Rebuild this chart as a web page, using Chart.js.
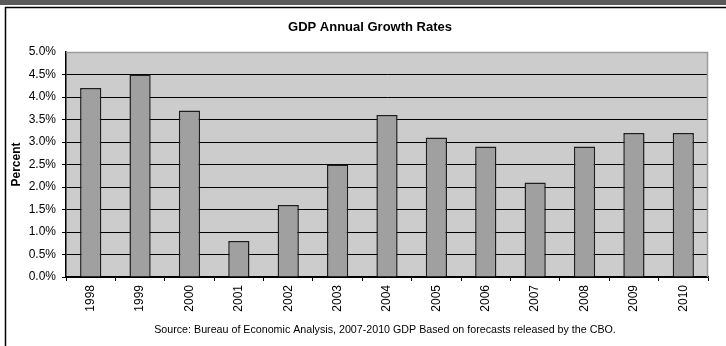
<!DOCTYPE html>
<html>
<head>
<meta charset="utf-8">
<script src="https://cdn.jsdelivr.net/npm/chart.js@4/dist/chart.umd.min.js"></script>
<style>
  html, body { margin: 0; padding: 0; background: #fff; }
  #wrap { width: 726px; height: 346px; position: relative; }
</style>
</head>
<body>
<div id="wrap"><canvas id="gdp" width="726" height="346"></canvas></div>
<script>
// GDP annual growth rates, percent
const years = ['1998','1999','2000','2001','2002','2003','2004','2005','2006','2007','2008','2009','2010'];
const growth = [4.2, 4.5, 3.7, 0.8, 1.6, 2.5, 3.6, 3.1, 2.9, 2.1, 2.9, 3.2, 3.2];
const yMin = 0;
const yMax = 5;
const yStep = 0.5;
const chartTitle = 'GDP Annual Growth Rates';
const yTitle = 'Percent';
const sourceNote = 'Source: Bureau of Economic Analysis, 2007-2010 GDP Based on forecasts released by the CBO.';

const FONT = '"Liberation Sans", Arial, sans-serif';

// Frame, plot background and header/footer text
const decor = {
  id: 'decor',
  beforeDraw(chart) {
    const { ctx, chartArea: a, width, height } = chart;
    ctx.save();
    ctx.fillStyle = '#ffffff';
    ctx.fillRect(0, 0, width, height);
    // top band and frame lines
    ctx.fillStyle = '#5a5a5a';
    ctx.fillRect(0, 0, width, 5);
    ctx.strokeStyle = '#000';
    ctx.lineWidth = 1.5;
    ctx.beginPath();
    ctx.moveTo(5, 7.5); ctx.lineTo(width, 7.5);
    ctx.moveTo(5.5, 7); ctx.lineTo(5.5, height);
    ctx.stroke();
    // plot area fill
    ctx.fillStyle = '#cccccc';
    ctx.fillRect(a.left, a.top, a.right - a.left, a.bottom - a.top);
    ctx.restore();
  },
  beforeDatasetsDraw(chart) {
    const { ctx, chartArea: a } = chart;
    ctx.save();
    ctx.strokeStyle = '#9a9a9a';
    ctx.lineWidth = 1.5;
    ctx.beginPath();
    ctx.moveTo(a.left, a.top + 0.5);
    ctx.lineTo(a.right - 0.5, a.top + 0.5);
    ctx.lineTo(a.right - 0.5, a.bottom);
    ctx.stroke();
    ctx.restore();
  },
  afterDraw(chart) {
    const { ctx, chartArea: a } = chart;
    ctx.save();
    ctx.fillStyle = '#000';
    ctx.textAlign = 'center';
    ctx.textBaseline = 'middle';
    ctx.font = 'bold 13px ' + FONT;
    ctx.fillText(chartTitle, 370, 27);
    ctx.font = '10.7px ' + FONT;
    ctx.fillText(sourceNote, (a.left + a.right) / 2 - 2, 330);
    ctx.restore();
  }
};

new Chart(document.getElementById('gdp'), {
  type: 'bar',
  data: {
    labels: years,
    datasets: [{
      data: growth,
      backgroundColor: '#a0a0a0',
      borderColor: '#1e1e1e',
      borderWidth: 1.5,
      categoryPercentage: 1,
      barPercentage: 0.43
    }]
  },
  options: {
    responsive: false,
    animation: false,
    devicePixelRatio: 1,
    layout: { padding: { left: 5, top: 52, right: 18, bottom: 0 } },
    plugins: {
      legend: { display: false },
      tooltip: { enabled: false },
      title: { display: false }
    },
    scales: {
      x: {
        offset: true,
        grid: {
          offset: true,
          drawOnChartArea: false,
          drawTicks: true,
          tickLength: 4,
          color: '#000'
        },
        border: { color: '#000', width: 1.5 },
        ticks: {
          minRotation: 90,
          maxRotation: 90,
          autoSkip: false,
          padding: 4,
          color: '#000',
          font: { family: FONT, size: 12 }
        },
        afterFit(scale) { scale.height = 69; }
      },
      y: {
        min: yMin,
        max: yMax,
        grid: {
          color: (c) => (c.tick && c.tick.value === yMax) ? 'rgba(0,0,0,0)' : '#000',
          lineWidth: 1,
          tickLength: 4,
          drawTicks: true
        },
        border: { color: '#000', width: 1.5 },
        ticks: {
          stepSize: yStep,
          padding: 6,
          color: '#000',
          font: { family: FONT, size: 12 },
          callback: (v) => Number(v).toFixed(1) + '%'
        },
        title: {
          display: true,
          text: yTitle,
          color: '#000',
          font: { family: FONT, size: 12, weight: 'bold' },
          padding: { top: 4, bottom: 0 }
        },
        afterFit(scale) { scale.width = 61; }
      }
    }
  },
  plugins: [decor]
});
</script>
</body>
</html>
